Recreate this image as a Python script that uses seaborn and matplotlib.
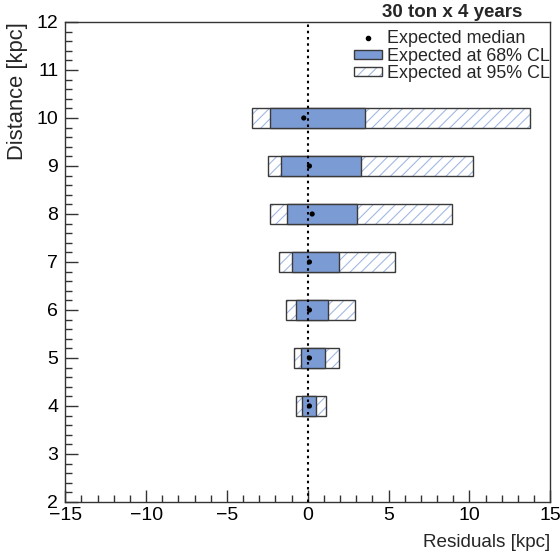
import matplotlib
matplotlib.use("Agg")
import matplotlib.pyplot as plt
from matplotlib.patches import Patch
from matplotlib.lines import Line2D
from matplotlib.legend_handler import HandlerTuple
from matplotlib.ticker import MultipleLocator
import seaborn as sns
import pandas as pd

# values
distance = [4, 5, 6, 7, 8, 9, 10]
median = [0.1, 0.1, 0.1, 0.1, 0.27, 0.1, -0.25]
lo68 = [-0.36, -0.44, -0.74, -0.96, -1.30, -1.63, -2.35]
hi68 = [0.50, 1.06, 1.26, 1.91, 3.05, 3.26, 3.52]
lo95 = [-0.73, -0.87, -1.36, -1.79, -2.35, -2.45, -3.46]
hi95 = [1.10, 1.95, 2.92, 5.37, 8.90, 10.20, 13.77]

df = pd.DataFrame({"distance": distance, "median": median,
                   "lo68": lo68, "hi68": hi68, "lo95": lo95, "hi95": hi95})

BLUE = "#7b9bd4"
HATCH = "#a3b8e2"
EDGE = "#3a3a3a"
H = 0.4

sns.set_theme(style="ticks")
plt.rcParams["font.family"] = ["Liberation Sans", "DejaVu Sans"]
plt.rcParams["hatch.linewidth"] = 0.8

fig = plt.figure(figsize=(5.6, 5.54), dpi=100)
ax = fig.add_axes([0.1166, 0.0939, 0.8661, 0.8664])

# 95% band: hatch first, then the outline
ax.barh(df["distance"], df["hi95"] - df["lo95"], left=df["lo95"], height=H,
        facecolor="white", edgecolor=HATCH, hatch="///", linewidth=0, zorder=2)
ax.barh(df["distance"], df["hi95"] - df["lo95"], left=df["lo95"], height=H,
        facecolor="none", edgecolor=EDGE, linewidth=1.0, zorder=3)
# 68% band
ax.barh(df["distance"], df["hi68"] - df["lo68"], left=df["lo68"], height=H,
        facecolor=BLUE, edgecolor=EDGE, linewidth=1.0, zorder=4)

ax.axvline(0, color="black", linestyle=(0, (1.2, 1.8)), linewidth=1.5, zorder=5)

sns.scatterplot(data=df, x="median", y="distance", color="black", s=14,
                edgecolor="none", zorder=6, ax=ax, legend=False)

ax.set_xlim(-15, 15)
ax.set_ylim(2, 12)
ax.xaxis.set_major_locator(MultipleLocator(5))
ax.xaxis.set_minor_locator(MultipleLocator(1))
ax.yaxis.set_major_locator(MultipleLocator(1))
ax.yaxis.set_minor_locator(MultipleLocator(0.2))
ax.tick_params(which="both", direction="in", top=False, right=False,
               colors="#333333", labelcolor="black", labelsize=14)
ax.tick_params(which="major", length=9, width=1)
ax.tick_params(which="minor", length=5, width=1)
ax.tick_params(axis="y", pad=5)
for s in ax.spines.values():
    s.set_color("#333333")
    s.set_linewidth(1.0)

ax.set_xlabel("Residuals [kpc]", loc="right", fontsize=13.6, labelpad=7)
ax.set_ylabel("Distance [kpc]", loc="top", fontsize=15.8, labelpad=6)

fig.text(0.807, 0.978, "30 ton x 4 years", ha="center", va="center",
         fontsize=13.5, fontweight="bold")

hatch_box = (Patch(facecolor="white", edgecolor=HATCH, hatch="///", linewidth=0),
             Patch(facecolor="none", edgecolor=EDGE, linewidth=1.0))
handles = [
    Line2D([], [], marker="o", color="black", linestyle="none", markersize=3),
    Patch(facecolor=BLUE, edgecolor=EDGE, linewidth=1.0),
    hatch_box,
]
labels = ["Expected median", "Expected at 68% CL", "Expected at 95% CL"]
ax.legend(handles, labels, loc="upper right", bbox_to_anchor=(1.0, 0.983),
          frameon=False, fontsize=12.9, handlelength=1.55, handleheight=0.4,
          handletextpad=0.32, labelspacing=0.03, borderaxespad=0, borderpad=0,
          handler_map={tuple: HandlerTuple(ndivide=1, pad=0)})

fig.savefig("out.png", dpi=100)
